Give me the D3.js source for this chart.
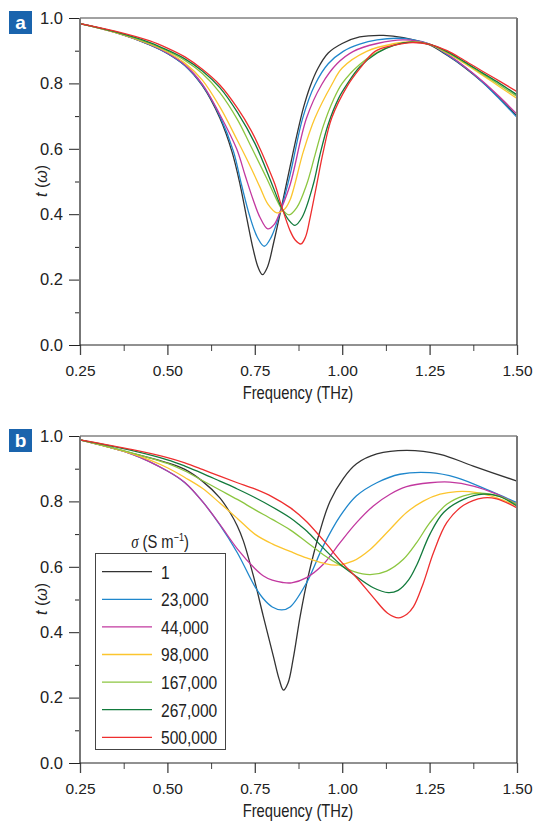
<!DOCTYPE html>
<html>
<head>
<meta charset="utf-8">
<script src="https://cdn.jsdelivr.net/npm/d3@7"></script>
<style>
body { margin:0; background:#fff; }
svg { display:block; font-family:"Liberation Sans", Arial, sans-serif; }
</style>
</head>
<body>
<svg id="chart" width="534" height="822"></svg>
<script>

/* Legend entries (sigma, S m-1) */
var sigmaLabels = ["1", "23,000", "44,000", "98,000", "167,000", "267,000", "500,000"];

/* Axis ticks */
var xTicks = [0.25, 0.50, 0.75, 1.00, 1.25, 1.50];
var xTickLabels = ["0.25", "0.50", "0.75", "1.00", "1.25", "1.50"];
var xMinorTicks = [0.375, 0.625, 0.875, 1.125, 1.375];
var yTicks = [0, 0.2, 0.4, 0.6, 0.8, 1.0];
var yTickLabels = ["0.0", "0.2", "0.4", "0.6", "0.8", "1.0"];
var yMinorTicks = [0.1, 0.3, 0.5, 0.7, 0.9];

/* Panel a : [frequency THz, t] */
var a1 = [[0.25,0.983],[0.35,0.957],[0.45,0.918],[0.5,0.892],[0.55,0.855],[0.6,0.793],[0.65,0.694],[0.685,0.59],[0.708,0.49],[0.727,0.388],[0.746,0.29],[0.76,0.236],[0.772,0.215],[0.786,0.238],[0.805,0.318],[0.825,0.415],[0.851,0.546],[0.87,0.64],[0.889,0.725],[0.908,0.79],[0.93,0.845],[0.96,0.893],[1.0,0.922],[1.05,0.942],[1.118,0.947],[1.175,0.94],[1.25,0.918],[1.3,0.886],[1.35,0.849],[1.4,0.805],[1.45,0.755],[1.5,0.70]];
var a2 = [[0.25,0.983],[0.35,0.956],[0.45,0.918],[0.5,0.892],[0.55,0.855],[0.6,0.795],[0.65,0.70],[0.689,0.592],[0.712,0.49],[0.736,0.392],[0.758,0.328],[0.777,0.302],[0.797,0.33],[0.825,0.415],[0.851,0.521],[0.887,0.694],[0.922,0.796],[0.96,0.86],[1.003,0.898],[1.05,0.92],[1.1,0.933],[1.156,0.938],[1.2,0.934],[1.25,0.92],[1.3,0.888],[1.35,0.85],[1.4,0.805],[1.45,0.752],[1.5,0.696]];
var a3 = [[0.25,0.983],[0.35,0.956],[0.45,0.919],[0.5,0.893],[0.55,0.857],[0.6,0.798],[0.65,0.705],[0.698,0.60],[0.722,0.52],[0.745,0.445],[0.765,0.39],[0.787,0.355],[0.805,0.368],[0.825,0.415],[0.851,0.49],[0.898,0.694],[0.941,0.796],[0.985,0.86],[1.032,0.898],[1.1,0.922],[1.175,0.933],[1.25,0.92],[1.3,0.89],[1.35,0.852],[1.4,0.808],[1.45,0.759],[1.5,0.706]];
var a4 = [[0.25,0.983],[0.35,0.956],[0.45,0.92],[0.5,0.896],[0.55,0.862],[0.6,0.81],[0.65,0.728],[0.7,0.626],[0.74,0.54],[0.765,0.482],[0.788,0.43],[0.813,0.404],[0.835,0.415],[0.851,0.444],[0.889,0.592],[0.922,0.694],[0.97,0.796],[1.0,0.847],[1.07,0.898],[1.15,0.922],[1.2,0.928],[1.25,0.919],[1.3,0.893],[1.35,0.861],[1.4,0.826],[1.45,0.79],[1.5,0.754]];
var a5 = [[0.25,0.983],[0.35,0.957],[0.45,0.922],[0.5,0.899],[0.55,0.87],[0.6,0.83],[0.65,0.772],[0.7,0.69],[0.736,0.614],[0.784,0.51],[0.81,0.45],[0.828,0.415],[0.848,0.398],[0.87,0.42],[0.898,0.49],[0.922,0.58],[0.946,0.67],[0.975,0.75],[1.0,0.80],[1.05,0.858],[1.1,0.895],[1.15,0.918],[1.2,0.926],[1.25,0.919],[1.3,0.895],[1.35,0.864],[1.4,0.83],[1.45,0.795],[1.5,0.76]];
var a6 = [[0.25,0.983],[0.35,0.958],[0.45,0.925],[0.5,0.902],[0.55,0.875],[0.6,0.838],[0.65,0.787],[0.7,0.712],[0.751,0.615],[0.798,0.495],[0.825,0.423],[0.845,0.385],[0.865,0.366],[0.885,0.39],[0.917,0.49],[0.936,0.58],[0.96,0.675],[0.99,0.755],[1.013,0.796],[1.05,0.85],[1.1,0.893],[1.15,0.917],[1.195,0.926],[1.25,0.919],[1.3,0.897],[1.35,0.866],[1.4,0.833],[1.45,0.80],[1.5,0.765]];
var a7 = [[0.25,0.983],[0.35,0.96],[0.45,0.93],[0.5,0.908],[0.55,0.881],[0.6,0.843],[0.65,0.795],[0.7,0.725],[0.74,0.655],[0.765,0.60],[0.79,0.538],[0.808,0.49],[0.825,0.43],[0.85,0.352],[0.865,0.322],[0.882,0.309],[0.895,0.33],[0.908,0.388],[0.927,0.49],[0.946,0.592],[0.97,0.694],[1.017,0.796],[1.05,0.845],[1.094,0.898],[1.15,0.917],[1.2,0.925],[1.25,0.919],[1.3,0.90],[1.35,0.87],[1.4,0.838],[1.45,0.807],[1.5,0.775]];

/* Panel b : [frequency THz, t] */
var b1 = [[0.25,0.988],[0.4,0.947],[0.5,0.918],[0.55,0.898],[0.6,0.862],[0.65,0.811],[0.679,0.766],[0.7,0.725],[0.717,0.68],[0.746,0.572],[0.774,0.45],[0.803,0.327],[0.82,0.255],[0.832,0.223],[0.845,0.245],[0.86,0.32],[0.88,0.45],[0.903,0.572],[0.935,0.704],[0.965,0.80],[1.003,0.87],[1.041,0.915],[1.099,0.945],[1.184,0.956],[1.28,0.944],[1.375,0.908],[1.5,0.862]];
var b2 = [[0.25,0.988],[0.4,0.944],[0.5,0.893],[0.55,0.857],[0.6,0.80],[0.65,0.728],[0.7,0.643],[0.75,0.54],[0.774,0.503],[0.8,0.477],[0.827,0.468],[0.851,0.477],[0.898,0.551],[0.946,0.664],[0.994,0.755],[1.041,0.817],[1.099,0.857],[1.165,0.883],[1.251,0.888],[1.327,0.873],[1.423,0.832],[1.5,0.796]];
var b3 = [[0.25,0.988],[0.4,0.944],[0.5,0.893],[0.55,0.858],[0.6,0.80],[0.65,0.73],[0.7,0.655],[0.75,0.595],[0.775,0.572],[0.8,0.559],[0.83,0.552],[0.855,0.551],[0.898,0.567],[0.946,0.608],[0.994,0.674],[1.041,0.735],[1.089,0.786],[1.137,0.822],[1.184,0.845],[1.251,0.857],[1.308,0.859],[1.375,0.847],[1.442,0.822],[1.5,0.791]];
var b4 = [[0.25,0.988],[0.4,0.945],[0.5,0.903],[0.55,0.873],[0.6,0.84],[0.65,0.795],[0.7,0.748],[0.75,0.70],[0.8,0.67],[0.851,0.647],[0.898,0.627],[0.946,0.611],[0.984,0.605],[1.032,0.618],[1.08,0.653],[1.137,0.715],[1.184,0.766],[1.232,0.801],[1.28,0.822],[1.328,0.83],[1.385,0.827],[1.442,0.811],[1.5,0.786]];
var b5 = [[0.25,0.988],[0.4,0.948],[0.5,0.916],[0.55,0.893],[0.6,0.864],[0.65,0.835],[0.7,0.806],[0.75,0.775],[0.8,0.745],[0.851,0.713],[0.898,0.676],[0.946,0.637],[0.994,0.605],[1.032,0.586],[1.08,0.576],[1.127,0.587],[1.175,0.623],[1.213,0.674],[1.251,0.735],[1.299,0.791],[1.347,0.817],[1.394,0.825],[1.45,0.815],[1.5,0.791]];
var b6 = [[0.25,0.988],[0.4,0.955],[0.5,0.927],[0.55,0.908],[0.6,0.886],[0.65,0.862],[0.7,0.838],[0.75,0.812],[0.8,0.783],[0.851,0.75],[0.879,0.727],[0.9,0.708],[0.946,0.657],[0.994,0.608],[1.032,0.577],[1.089,0.536],[1.132,0.521],[1.16,0.528],[1.19,0.56],[1.213,0.605],[1.251,0.70],[1.29,0.766],[1.347,0.806],[1.404,0.822],[1.45,0.815],[1.5,0.786]];
var b7 = [[0.25,0.988],[0.4,0.958],[0.5,0.934],[0.55,0.918],[0.6,0.898],[0.65,0.877],[0.7,0.857],[0.75,0.838],[0.8,0.814],[0.851,0.781],[0.879,0.757],[0.9,0.736],[0.95,0.676],[1.0,0.612],[1.04,0.568],[1.09,0.505],[1.13,0.458],[1.161,0.444],[1.185,0.455],[1.204,0.478],[1.232,0.55],[1.261,0.643],[1.299,0.735],[1.347,0.788],[1.404,0.811],[1.442,0.808],[1.5,0.78]];

var colours = ["#333333", "#1f87cc", "#c2389f", "#fcc52e", "#8cc640", "#127a3c", "#ee2e2e"];

var svg = d3.select("#chart");

var x = d3.scaleLinear().domain([0.25, 1.5]).range([80, 517]);

//Condensed text: no narrow face installed, so squeeze horizontally
function narrowText(parent, px, py, size, anchor) {
    return parent.append("text")
        .attr("transform", "translate(" + px + "," + py + ") scale(0.82,1)")
        .attr("text-anchor", anchor)
        .attr("font-size", size)
        .attr("fill", "#222");
}

//Draw one panel, top = pixel y of t=1
function drawPanel(top, letter, series, legend) {

    var y = d3.scaleLinear().domain([0, 1]).range([top + 327, top]);
    var g = svg.append("g");

    var line = d3.line()
        .x(function(d){ return x(d[0]); })
        .y(function(d){ return y(d[1]); })
        .curve(d3.curveCatmullRom.alpha(0.5));

    //Curves
    for (var i = 0; i < series.length; i++) {
        g.append("path")
            .datum(series[i])
            .attr("d", line)
            .attr("fill", "none")
            .attr("stroke", colours[i])
            .attr("stroke-width", 1.3);
    }

    //Frame: top and right border
    g.append("line").attr("x1", 80).attr("x2", 517).attr("y1", y(1)).attr("y2", y(1))
        .attr("stroke", "#444").attr("stroke-width", 1);
    g.append("line").attr("x1", 517).attr("x2", 517).attr("y1", y(1)).attr("y2", y(0))
        .attr("stroke", "#777").attr("stroke-width", 2);

    //Y axis
    var yAxis = d3.axisLeft(y).tickValues(yTicks)
        .tickFormat(function(d, i){ return yTickLabels[i]; })
        .tickSize(11).tickPadding(6);
    var ya = g.append("g").attr("transform", "translate(80,0)").call(yAxis);
    ya.select(".domain").remove();
    ya.selectAll("line").attr("stroke", "#222");
    ya.selectAll("text").attr("font-size", 16.5).attr("fill", "#222").style("font-family", "inherit");

    var yMinor = d3.axisLeft(y).tickValues(yMinorTicks).tickSize(5).tickFormat("");
    var ym = g.append("g").attr("transform", "translate(80,0)").call(yMinor);
    ym.select(".domain").remove();
    ym.selectAll("line").attr("stroke", "#222");

    g.append("line").attr("x1", 80).attr("x2", 80).attr("y1", y(1)).attr("y2", y(0))
        .attr("stroke", "#777").attr("stroke-width", 2);

    //X axis
    var xAxis = d3.axisBottom(x).tickValues(xTicks)
        .tickFormat(function(d, i){ return xTickLabels[i]; })
        .tickSize(10).tickPadding(10);
    var xa = g.append("g").attr("transform", "translate(0," + y(0) + ")").call(xAxis);
    xa.select(".domain").remove();
    xa.selectAll("line").attr("stroke", "#444").attr("stroke-width", 1.3);
    xa.selectAll("text").attr("font-size", 15.5).attr("fill", "#222").style("font-family", "inherit");

    var xMinor = d3.axisBottom(x).tickValues(xMinorTicks).tickSize(6).tickFormat("");
    var xm = g.append("g").attr("transform", "translate(0," + y(0) + ")").call(xMinor);
    xm.select(".domain").remove();
    xm.selectAll("line").attr("stroke", "#444");

    g.append("line").attr("x1", 80).attr("x2", 517).attr("y1", y(0)).attr("y2", y(0))
        .attr("stroke", "#222").attr("stroke-width", 1);

    //Axis titles
    narrowText(g, 298, y(0) + 54, 18, "middle").text("Frequency (THz)");

    var yt = g.append("text")
        .attr("transform", "translate(47," + (top + 163) + ") rotate(-90)")
        .attr("text-anchor", "middle").attr("font-size", 16).attr("fill", "#222");
    yt.append("tspan").attr("font-style", "italic").text("t");
    yt.append("tspan").text(" (");
    yt.append("tspan").attr("font-style", "italic").text("ω");
    yt.append("tspan").text(")");

    //Panel letter
    g.append("rect").attr("x", 9).attr("y", top - 7).attr("width", 23).attr("height", 23)
        .attr("fill", "#1a64ad");
    g.append("text").attr("x", 20.5).attr("y", top + 11)
        .attr("text-anchor", "middle").attr("font-size", 19).attr("font-weight", "bold")
        .attr("fill", "#fff").text(letter);

    if (legend) drawLegend(g);
}

//Legend for panel b
function drawLegend(g) {
    var lt = narrowText(g, 160, 548, 18, "middle");
    lt.append("tspan").attr("font-style", "italic").style("font-family", "Liberation Serif, serif").text("σ");
    lt.append("tspan").text(" (S m");
    lt.append("tspan").attr("font-size", 11).attr("dy", -7).text("−1");
    lt.append("tspan").attr("dy", 7).text(")");

    g.append("rect").attr("x", 95.5).attr("y", 553.5).attr("width", 130).attr("height", 196)
        .attr("fill", "#fff").attr("stroke", "#444").attr("stroke-width", 1);

    var rowY = d3.scaleLinear().domain([0, 6]).range([571.7, 737.3]);
    for (var i = 0; i < sigmaLabels.length; i++) {
        g.append("line").attr("x1", 102).attr("x2", 152)
            .attr("y1", rowY(i)).attr("y2", rowY(i))
            .attr("stroke", colours[i]).attr("stroke-width", 1.3);
        narrowText(g, 161, rowY(i) + 6.8, 19, "start").text(sigmaLabels[i]);
    }
}

drawPanel(18, "a", [a1, a2, a3, a4, a5, a6, a7], false);
drawPanel(436, "b", [b1, b2, b3, b4, b5, b6, b7], true);

</script>
</body>
</html>
